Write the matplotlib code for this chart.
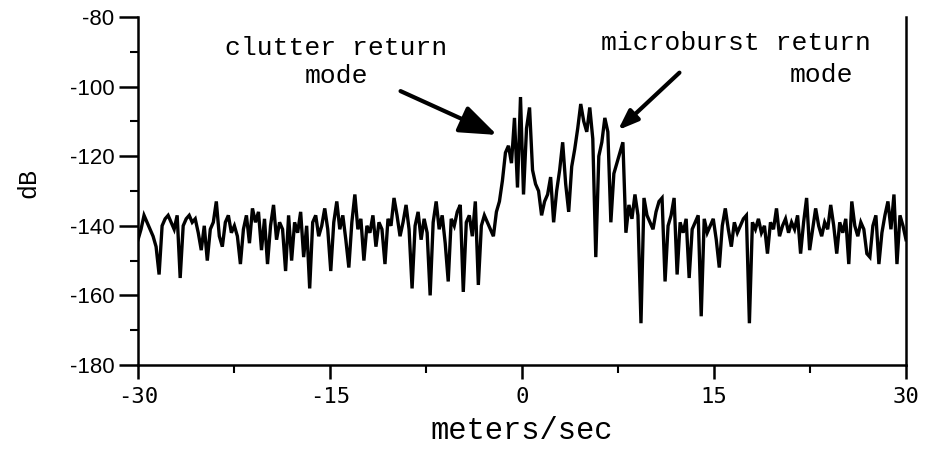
import numpy as np
import matplotlib
matplotlib.use("Agg")
import matplotlib.pyplot as plt
from matplotlib.ticker import MultipleLocator

# Doppler power spectrum, 256 velocity bins from -30 to +30 m/s
seg_a = [-144, -141, -137, -139, -141, -143, -146, -154, -140, -138, -137, -139, -141, -137, -155, -140]
seg_b = [-138, -137, -139, -138, -142, -147, -140, -150, -141, -139, -133, -143, -146, -139, -137, -142]
seg_c = [-140, -143, -151, -141, -137, -145, -135, -139, -136, -147, -138, -151, -140, -134, -144, -139]
seg_d = [-141, -153, -137, -150, -139, -142, -136, -149, -140, -158, -139, -137, -143, -140, -135, -141]
seg_e = [-153, -139, -133, -141, -137, -144, -152, -139, -131, -141, -138, -150, -140, -142, -137, -146]
seg_f = [-139, -141, -151, -138, -140, -132, -137, -143, -139, -134, -141, -158, -140, -136, -144, -138]
seg_g = [-142, -160, -139, -133, -141, -137, -145, -156, -138, -140, -136, -134, -159, -139, -137, -143]
seg_h = [-133, -157, -140, -137, -139, -141, -143, -136, -133, -127, -119, -117, -122, -109, -129, -103]
seg_i = [-131, -112, -106, -124, -128, -130, -137, -133, -131, -126, -139, -130, -124, -116, -128, -136]
seg_j = [-123, -118, -112, -105, -110, -113, -106, -115, -149, -120, -116, -109, -113, -139, -125, -122]
seg_k = [-119, -116, -142, -134, -138, -131, -137, -168, -132, -137, -139, -141, -136, -133, -132, -156]
seg_l = [-140, -137, -132, -154, -139, -142, -138, -155, -141, -139, -137, -166, -138, -142, -140, -138]
seg_m = [-144, -152, -140, -135, -141, -146, -139, -142, -140, -138, -137, -168, -139, -141, -138, -142]
seg_n = [-140, -148, -139, -141, -135, -143, -140, -138, -142, -139, -141, -137, -148, -139, -132, -147]
seg_o = [-141, -135, -140, -143, -139, -141, -134, -140, -148, -139, -142, -138, -151, -133, -140, -143]
seg_p = [-139, -141, -148, -149, -140, -137, -151, -142, -137, -133, -141, -131, -151, -137, -140, -144]

power_db = np.array(seg_a + seg_b + seg_c + seg_d + seg_e + seg_f + seg_g + seg_h
                    + seg_i + seg_j + seg_k + seg_l + seg_m + seg_n + seg_o + seg_p, dtype=float)
velocity = np.linspace(-30, 30, power_db.size)

x_ticks = [-30, -15, 0, 15, 30]
y_ticks = [-180, -160, -140, -120, -100, -80]

fig = plt.figure(figsize=(9.3, 4.59), dpi=100)
ax = fig.add_axes([0.1484, 0.2048, 0.8258, 0.7582])

ax.plot(velocity, power_db, color="black", lw=2.4, solid_joinstyle="miter")

ax.set_xlim(-30, 30)
ax.set_ylim(-180, -80)

ax.spines["top"].set_visible(False)
for side in ("left", "right", "bottom"):
    ax.spines[side].set_linewidth(1.8)

ax.set_xticks(x_ticks)
ax.set_xticklabels([str(t) for t in x_ticks], family="DejaVu Sans Mono", fontsize=16)
ax.xaxis.set_minor_locator(MultipleLocator(7.5))
ax.set_yticks(y_ticks)
ax.set_yticklabels([str(t) for t in y_ticks], family="Liberation Sans", fontsize=16)
ax.yaxis.set_minor_locator(MultipleLocator(10))

ax.tick_params(axis="x", which="major", direction="out", length=10, width=1.8, pad=6)
ax.tick_params(axis="x", which="minor", direction="out", length=6, width=1.5)
ax.tick_params(axis="y", which="major", direction="out", length=14, width=1.8, pad=3)
ax.tick_params(axis="y", which="minor", direction="out", length=6, width=1.5)

ax.set_xlabel("meters/sec", family="Liberation Mono", fontsize=22, va="center")
ax.xaxis.set_label_coords(0.5, -0.19)
ax.set_ylabel("dB", family="Liberation Mono", fontsize=18, va="center")
ax.yaxis.set_label_coords(-0.143, 0.523)

arrow = dict(arrowstyle="-|>,head_length=1.2,head_width=0.45", lw=3, color="black",
             shrinkA=0, shrinkB=0)
ax.annotate("clutter return\nmode", xy=(-1.95, -113.9), xytext=(-14.5, -100.5),
            family="Liberation Mono", fontsize=19, ha="center", va="bottom",
            linespacing=1.25, arrowprops=arrow)
ax.annotate("", xy=(7.5, -112.5), xytext=(12.3, -96.0), arrowprops=arrow)
ax.text(16.7, -91.0, "microburst return", family="Liberation Mono", fontsize=19,
        ha="center", va="bottom")
ax.text(23.4, -100.0, "mode", family="Liberation Mono", fontsize=19,
        ha="center", va="bottom")

fig.savefig("out.png", dpi=100)
